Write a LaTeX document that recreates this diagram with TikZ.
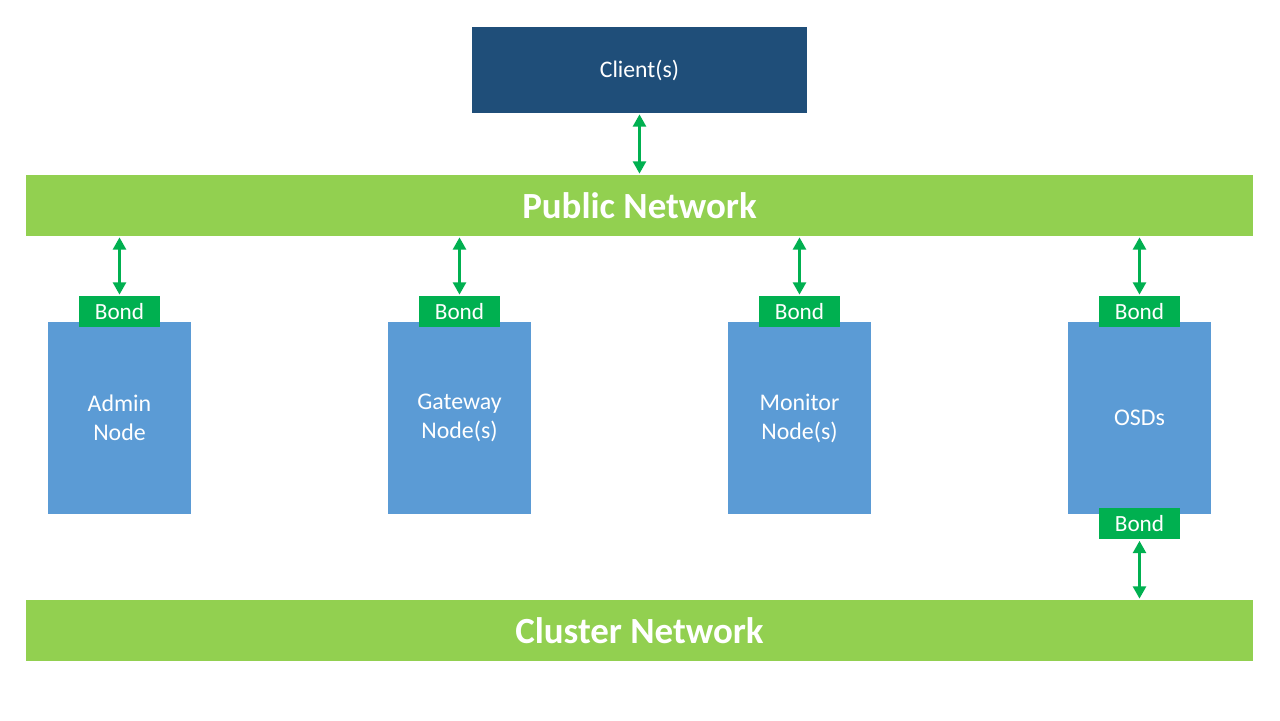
\documentclass[tikz,border=0pt]{standalone}
\usepackage{fontspec}
\setmainfont{Carlito}
\usetikzlibrary{arrows.meta}
\definecolor{clientblue}{HTML}{1F4E79}
\definecolor{netgreen}{HTML}{92D050}
\definecolor{bondgreen}{HTML}{00B050}
\definecolor{hostblue}{HTML}{5B9BD5}
\begin{document}
\begin{tikzpicture}[
    client/.style={rectangle, fill=clientblue, text=white, minimum width=6.7cm, minimum height=1.72cm, font=\fontsize{13.5}{16}\selectfont},
    net/.style={rectangle, fill=netgreen, text=white, minimum width=24.54cm, minimum height=1.22cm, font=\fontsize{21}{25}\selectfont\bfseries},
    host/.style={rectangle, fill=hostblue, text=white, minimum width=2.86cm, minimum height=3.84cm, align=center, font=\fontsize{13.6}{16.5}\selectfont},
    bond/.style={rectangle, fill=bondgreen, text=white, minimum width=1.62cm, minimum height=0.62cm, inner sep=0pt, font=\fontsize{13.2}{15}\selectfont},
    link/.style={{Triangle[length=7pt,width=7.5pt]}-{Triangle[length=7pt,width=7.5pt]}, draw=bondgreen, line width=1.3pt, shorten <=0.6pt, shorten >=0.6pt}
]
\useasboundingbox (0,0) rectangle (25.6,14.4);

\node[client] (client) at (12.79,13.0) {Client(s)};
\node[net] (public) at (12.79,10.29) {Public Network};
\node[net] (cluster) at (12.79,1.79) {Cluster Network};

\node[host] (admin) at (2.39,6.04) {Admin\\Node};
\node[host] (gateway) at (9.19,6.04) {Gateway\\Node(s)};
\node[host] (monitor) at (15.99,6.04) {Monitor\\Node(s)};
\node[host] (osds) at (22.79,6.04) {OSDs};

\node[bond] (bondadmin) at (2.39,8.17) {Bond};
\node[bond] (bondgateway) at (9.19,8.17) {Bond};
\node[bond] (bondmonitor) at (15.99,8.17) {Bond};
\node[bond] (bondosds) at (22.79,8.17) {Bond};
\node[bond] (bondcluster) at (22.79,3.92) {Bond};

\draw[link] (client) -- (public.north -| client);
\draw[link] (public.south -| bondadmin) -- (bondadmin);
\draw[link] (public.south -| bondgateway) -- (bondgateway);
\draw[link] (public.south -| bondmonitor) -- (bondmonitor);
\draw[link] (public.south -| bondosds) -- (bondosds);
\draw[link] (bondcluster) -- (cluster.north -| bondcluster);
\end{tikzpicture}
\end{document}
